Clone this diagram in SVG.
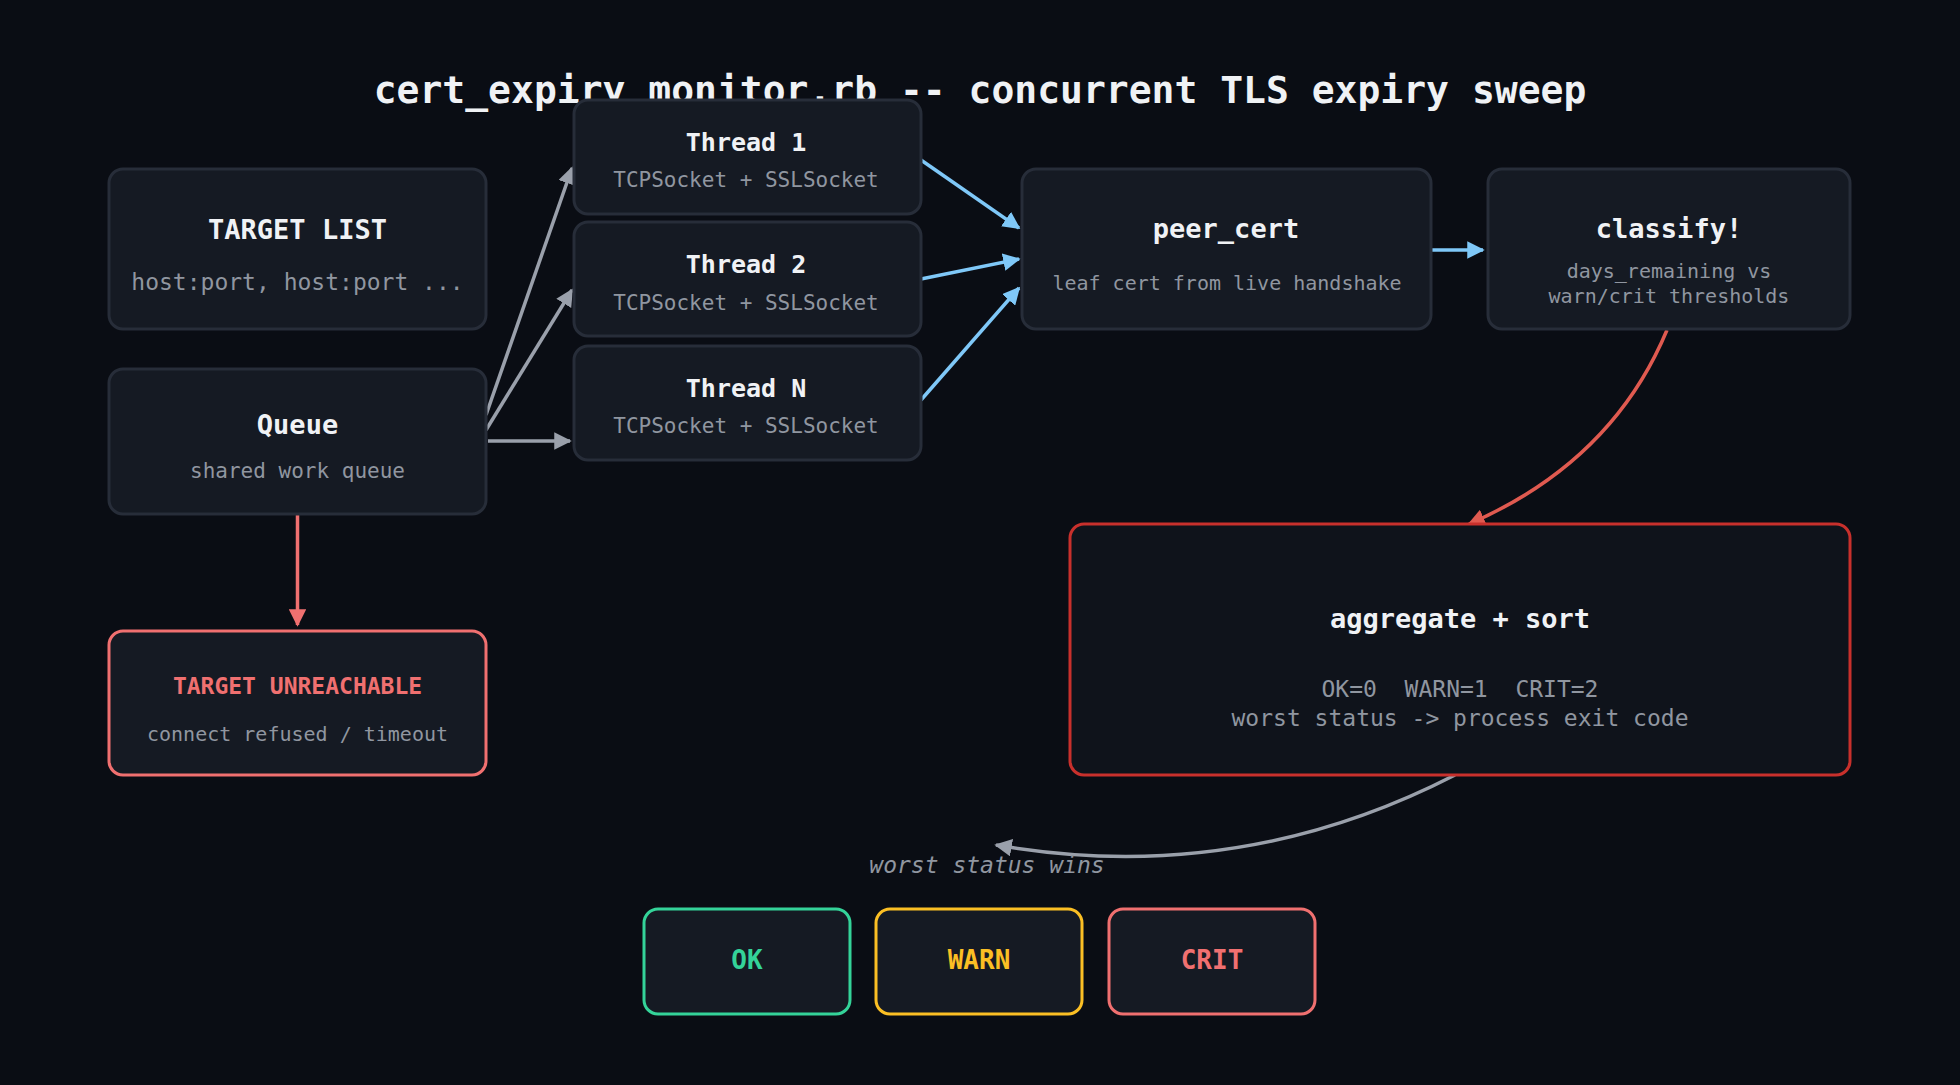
<svg xmlns="http://www.w3.org/2000/svg" width="1960" height="1085" viewBox="0 0 1960 1085">
<defs>
<style>
.n{fill:#151a23;stroke:#272d39;stroke-width:3}
.t{font-family:"DejaVu Sans Mono",monospace;font-weight:bold;fill:#f0f2f5;text-anchor:middle}
.s{font-family:"DejaVu Sans Mono",monospace;fill:#9096a0;text-anchor:middle}
.g{stroke:#9aa0ab;stroke-width:3.5;fill:none}
.b{stroke:#7fc8f8;stroke-width:3.5;fill:none}
</style>
<marker id="ag" viewBox="0 0 10 10" refX="9" refY="5" markerWidth="5" markerHeight="5" orient="auto"><path d="M0,0L10,5L0,10z" fill="#9aa0ab"/></marker>
<marker id="ab" viewBox="0 0 10 10" refX="9" refY="5" markerWidth="5" markerHeight="5" orient="auto"><path d="M0,0L10,5L0,10z" fill="#7fc8f8"/></marker>
<marker id="ar" viewBox="0 0 10 10" refX="9" refY="5" markerWidth="5" markerHeight="5" orient="auto"><path d="M0,0L10,5L0,10z" fill="#f07070"/></marker>
<marker id="ar2" viewBox="0 0 10 10" refX="9" refY="5" markerWidth="5" markerHeight="5" orient="auto"><path d="M0,0L10,5L0,10z" fill="#e05a50"/></marker>
</defs>
<rect width="1960" height="1085" fill="#0a0d14"/>
<text x="980" y="103" class="t" font-size="38">cert_expiry_monitor.rb -- concurrent TLS expiry sweep</text>
<g id="connectors">
<path class="g" d="M486,415L572,168" marker-end="url(#ag)"/>
<path class="g" d="M486,430L572,290" marker-end="url(#ag)"/>
<path class="g" d="M488,441L570,441" marker-end="url(#ag)"/>
<path class="b" d="M921,160L1019,228" marker-end="url(#ab)"/>
<path class="b" d="M921,279L1019,259" marker-end="url(#ab)"/>
<path class="b" d="M921,400L1019,288" marker-end="url(#ab)"/>
<path class="b" d="M1432,250L1483,250" marker-end="url(#ab)"/>
<path d="M1667,330Q1612,462 1469,524" stroke="#e05a50" stroke-width="3.5" fill="none" marker-end="url(#ar2)"/>
<path d="M297.5,514L297.5,625" stroke="#f07070" stroke-width="3.5" fill="none" marker-end="url(#ar)"/>
<path class="g" d="M1455,775Q1237,887 996,845" marker-end="url(#ag)"/>
</g>
<g id="target-list"><rect class="n" x="109" y="169" width="377" height="160" rx="14"/><text x="297.5" y="239" class="t" font-size="27">TARGET LIST</text><text x="297.5" y="290" class="s" font-size="23">host:port, host:port ...</text></g>
<g id="queue"><rect class="n" x="109" y="369" width="377" height="145" rx="14"/><text x="297.5" y="434" class="t" font-size="27">Queue</text><text x="297.5" y="478" class="s" font-size="21">shared work queue</text></g>
<g id="unreachable"><rect x="109" y="631" width="377" height="144" rx="14" fill="#151a23" stroke="#f07070" stroke-width="3"/><text x="297.5" y="694" class="t" font-size="23" fill="#f07070" style="fill:#f07070">TARGET UNREACHABLE</text><text x="297.5" y="741" class="s" font-size="20">connect refused / timeout</text></g>
<g id="thread1"><rect class="n" x="574" y="100" width="347" height="114" rx="14"/><text x="746" y="151" class="t" font-size="25">Thread 1</text><text x="746" y="187" class="s" font-size="21">TCPSocket + SSLSocket</text></g>
<g id="thread2"><rect class="n" x="574" y="222" width="347" height="114" rx="14"/><text x="746" y="273" class="t" font-size="25">Thread 2</text><text x="746" y="310" class="s" font-size="21">TCPSocket + SSLSocket</text></g>
<g id="threadN"><rect class="n" x="574" y="346" width="347" height="114" rx="14"/><text x="746" y="397" class="t" font-size="25">Thread N</text><text x="746" y="433" class="s" font-size="21">TCPSocket + SSLSocket</text></g>
<g id="peer-cert"><rect class="n" x="1022" y="169" width="409" height="160" rx="14"/><text x="1226" y="238" class="t" font-size="27">peer_cert</text><text x="1227" y="290" class="s" font-size="20">leaf cert from live handshake</text></g>
<g id="classify"><rect class="n" x="1488" y="169" width="362" height="160" rx="14"/><text x="1669" y="238" class="t" font-size="27">classify!</text><text x="1669" y="278" class="s" font-size="20">days_remaining vs</text><text x="1669" y="303" class="s" font-size="20">warn/crit thresholds</text></g>
<g id="aggregate"><rect x="1070" y="524" width="780" height="251" rx="14" fill="#0f131b" stroke="#c8302c" stroke-width="3"/><text x="1460" y="628" class="t" font-size="27">aggregate + sort</text><text x="1460" y="697" class="s" font-size="23" xml:space="preserve">OK=0  WARN=1  CRIT=2</text><text x="1460" y="726" class="s" font-size="23">worst status -&gt; process exit code</text></g>
<text x="987" y="873" class="s" font-size="23" font-style="italic">worst status wins</text>
<g id="ok"><rect x="644" y="909" width="206" height="105" rx="14" fill="#151a23" stroke="#34d399" stroke-width="3"/><text x="747" y="969" class="t" font-size="26" style="fill:#34d399">OK</text></g>
<g id="warn"><rect x="876" y="909" width="206" height="105" rx="14" fill="#151a23" stroke="#fbbf24" stroke-width="3"/><text x="979" y="969" class="t" font-size="26" style="fill:#fbbf24">WARN</text></g>
<g id="crit"><rect x="1109" y="909" width="206" height="105" rx="14" fill="#151a23" stroke="#f07070" stroke-width="3"/><text x="1212" y="969" class="t" font-size="26" style="fill:#f07070">CRIT</text></g>
</svg>
